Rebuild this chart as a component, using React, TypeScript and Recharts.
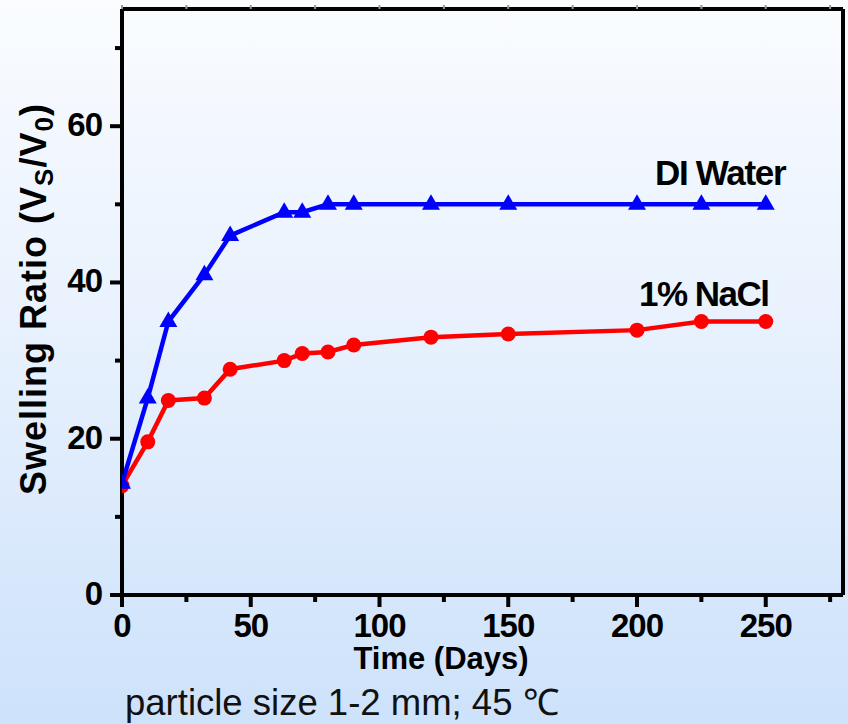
import { LineChart, Line, XAxis, YAxis, Customized } from 'recharts';

const days = [0, 10, 18, 32, 42, 63, 70, 80, 90, 120, 150, 200, 225, 250];
const diWater = [14.3, 25.2, 35, 41, 46, 49, 49, 50, 50, 50, 50, 50, 50, 50];
const nacl = [14, 19.6, 24.9, 25.2, 28.9, 30, 30.9, 31.1, 32, 33, 33.4, 33.9, 35, 35];

const xTicks = [0, 25, 50, 75, 100, 125, 150, 175, 200, 225, 250, 275];
const xMajor = [0, 50, 100, 150, 200, 250];
const yTicks = [0, 10, 20, 30, 40, 50, 60, 70];
const yMajor = [0, 20, 40, 60];

const data = days.map((d, i) => ({ day: d, water: diWater[i], nacl: nacl[i] }));

const FONT = '"Liberation Sans", Arial, sans-serif';
const AX = 4;

// custom ticks: own tick line (long for major, short for minor) + label for majors
const BottomTick = (p: any) => {
  const major = xMajor.includes(p.payload.value);
  return (
    <g>
      <line x1={p.x} x2={p.x} y1={p.y} y2={p.y + (major ? 12 : 7)} stroke="#000" strokeWidth={AX} />
      {major && (
        <text x={p.x} y={p.y + 42} textAnchor="middle" fontFamily={FONT} fontWeight="bold" fontSize={33} letterSpacing={-1} fill="#000">
          {p.payload.value}
        </text>
      )}
    </g>
  );
};

// top ticks are mostly cut off by the picture edge
const TopTick = (p: any) => (
  <line x1={p.x} x2={p.x} y1={p.y} y2={p.y - 4} stroke="#999" strokeWidth={2} />
);

const LeftTick = (p: any) => {
  const major = yMajor.includes(p.payload.value);
  return (
    <g>
      <line x1={p.x - (major ? 12 : 7)} x2={p.x} y1={p.y} y2={p.y} stroke="#000" strokeWidth={AX} />
      {major && (
        <text x={p.x - 20} y={p.y + 10} textAnchor="end" fontFamily={FONT} fontWeight="bold" fontSize={33} letterSpacing={-1} fill="#000">
          {p.payload.value}
        </text>
      )}
    </g>
  );
};

const RightTick = (p: any) => {
  const major = yMajor.includes(p.payload.value);
  return <line x1={p.x} x2={p.x + (major ? 12 : 7)} y1={p.y} y2={p.y} stroke="#000" strokeWidth={AX} />;
};

const Triangle = (p: any) => {
  if (p.cx == null || p.cy == null) return <g key={p.key} />;
  return (
    <polygon
      key={p.key}
      points={`${p.cx},${p.cy - 10} ${p.cx - 9},${p.cy + 5.5} ${p.cx + 9},${p.cy + 5.5}`}
      fill="#0000ff"
    />
  );
};

const Annotations = () => (
  <g fontFamily={FONT} fill="#000">
    <text x={655} y={185} fontWeight="bold" fontSize={35} letterSpacing={-1.3}>DI Water</text>
    <text x={639} y={306} fontWeight="bold" fontSize={35} letterSpacing={-1.5}>1% NaCl</text>
    <text x={441} y={669} textAnchor="middle" fontWeight="bold" fontSize={31}>Time (Days)</text>
    <text transform="rotate(-90)" x={-299} y={46} textAnchor="middle" fontWeight="bold" fontSize={36} letterSpacing={1}>
      Swelling Ratio (V
      <tspan fontSize={26} dy={7}>S</tspan>
      <tspan dy={-7}>/V</tspan>
      <tspan fontSize={26} dy={7}>0</tspan>
      <tspan dy={-7}>)</tspan>
    </text>
    <text x={125} y={715} fontSize={36.5} fill="#111">particle size 1-2 mm; 45 ℃</text>
  </g>
);

export default function App() {
  return (
    <div
      style={{
        position: 'absolute',
        left: 0,
        top: 0,
        width: 848,
        height: 724,
        background: 'linear-gradient(to bottom, #fafcff 0%, #e6f0fd 50%, #cde2fb 100%)',
      }}
    >
      <LineChart width={848} height={724} data={data} margin={{ top: 8, right: 4, bottom: 128, left: 121 }}>
        <XAxis
          xAxisId="b"
          dataKey="day"
          type="number"
          domain={[0, 280]}
          ticks={xTicks}
          height={1}
          tickSize={0}
          tickMargin={0}
          tickLine={false}
          tick={BottomTick}
          axisLine={{ stroke: '#000', strokeWidth: AX }}
          interval={0}
          allowDataOverflow
        />
        <XAxis
          xAxisId="t"
          orientation="top"
          dataKey="day"
          type="number"
          domain={[0, 280]}
          ticks={xTicks}
          height={1}
          tickSize={0}
          tickMargin={0}
          tickLine={false}
          tick={TopTick}
          axisLine={{ stroke: '#000', strokeWidth: AX }}
          interval={0}
        />
        <YAxis
          yAxisId="l"
          type="number"
          domain={[0, 75]}
          ticks={yTicks}
          width={1}
          tickSize={0}
          tickMargin={0}
          tickLine={false}
          tick={LeftTick}
          axisLine={{ stroke: '#000', strokeWidth: AX }}
          interval={0}
          allowDataOverflow
        />
        <YAxis
          yAxisId="r"
          orientation="right"
          type="number"
          domain={[0, 75]}
          ticks={yTicks}
          width={1}
          tickSize={0}
          tickMargin={0}
          tickLine={false}
          tick={RightTick}
          axisLine={{ stroke: '#000', strokeWidth: AX }}
          interval={0}
        />
        <Line
          xAxisId="b"
          yAxisId="l"
          dataKey="nacl"
          stroke="#ff0000"
          strokeWidth={4.5}
          dot={{ r: 7.5, fill: '#ff0000', stroke: 'none' }}
          isAnimationActive={false}
        />
        <Line
          xAxisId="b"
          yAxisId="l"
          dataKey="water"
          stroke="#0000ff"
          strokeWidth={4.5}
          dot={Triangle}
          isAnimationActive={false}
        />
        <Customized component={Annotations} />
      </LineChart>
    </div>
  );
}
